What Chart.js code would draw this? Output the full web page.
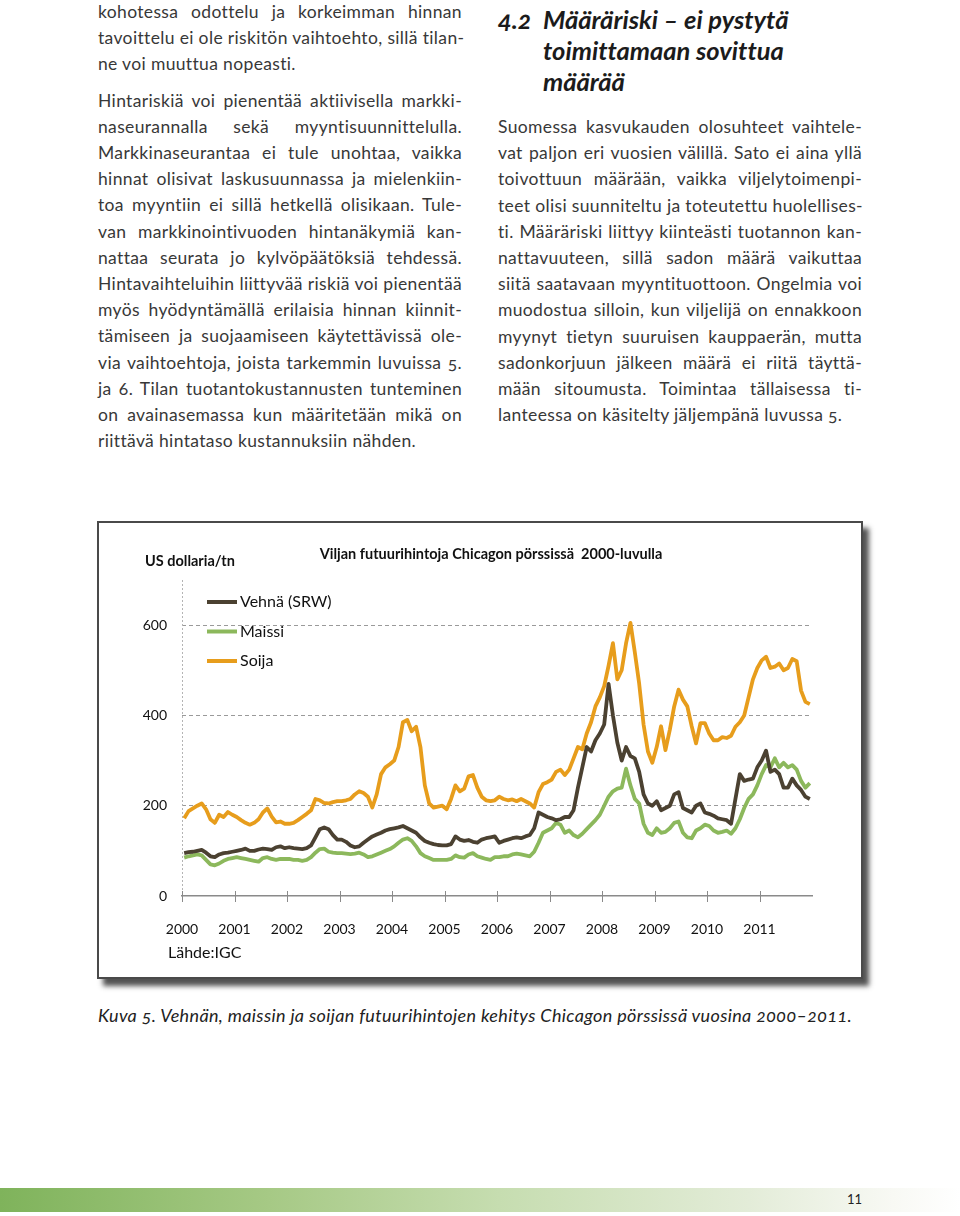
<!DOCTYPE html>
<html lang="fi">
<head>
<meta charset="utf-8">
<script src="https://cdn.jsdelivr.net/npm/chart.js@4.4.0/dist/chart.umd.min.js"></script>
<style>
  body { margin: 0; width: 960px; height: 1216px; position: relative; background: #fff; font-family: Lato, "Open Sans", sans-serif; color: #383838; overflow: hidden; font-variant-ligatures: none; }
  .col { position: absolute; width: 364px; font-size: 17.5px; letter-spacing: 0.35px; line-height: 26.2px; font-variant-numeric: oldstyle-nums; }
  .col div { white-space: nowrap; text-align: justify; text-align-last: justify; }
  .col div.end { text-align-last: left; }
  .col .gap { height: 10px; }
  .head { position: absolute; left: 498px; top: 4px; font-size: 25.5px; font-weight: bold; font-style: italic; line-height: 31px; color: #1b1b1b; }
  .head span { display: inline-block; width: 45px; font-variant-numeric: oldstyle-nums; }
  .head div.in { padding-left: 45px; }
  .frame { position: absolute; left: 97px; top: 521px; width: 762px; height: 454px; border: 2px solid #4a4a4a; background: #fff; box-shadow: 6px 7px 5px rgba(40,40,40,0.8); }
  .caption { position: absolute; left: 98px; top: 1004px; font-size: 18px; letter-spacing: 0.35px; font-style: italic; color: #222; font-variant-numeric: oldstyle-nums; white-space: nowrap; }
  .bar { position: absolute; left: 0; top: 1188px; width: 960px; height: 24px; background: linear-gradient(to right, #7fb35b 0%, #a6c985 28%, #c6ddb0 52%, #e3ecd8 78%, #f8f9f4 93%, #fff 100%); }
  .pnum { position: absolute; left: 847px; top: 1191px; font-size: 13px; color: #222; }
</style>
</head>
<body>

<div class="col" style="left:98px; top:-1px;">
  <div>kohotessa odottelu ja korkeimman hinnan</div>
  <div>tavoittelu ei ole riskitön vaihtoehto, sillä tilan-</div>
  <div class="end">ne voi muuttua nopeasti.</div>
  <div class="gap"></div>
  <div>Hintariskiä voi pienentää aktiivisella markki-</div>
  <div>naseurannalla sekä myyntisuunnittelulla.</div>
  <div>Markkinaseurantaa ei tule unohtaa, vaikka</div>
  <div>hinnat olisivat laskusuunnassa ja mielenkiin-</div>
  <div>toa myyntiin ei sillä hetkellä olisikaan. Tule-</div>
  <div>van markkinointivuoden hintanäkymiä kan-</div>
  <div>nattaa seurata jo kylvöpäätöksiä tehdessä.</div>
  <div>Hintavaihteluihin liittyvää riskiä voi pienentää</div>
  <div>myös hyödyntämällä erilaisia hinnan kiinnit-</div>
  <div>tämiseen ja suojaamiseen käytettävissä ole-</div>
  <div>via vaihtoehtoja, joista tarkemmin luvuissa 5.</div>
  <div>ja 6. Tilan tuotantokustannusten tunteminen</div>
  <div>on avainasemassa kun määritetään mikä on</div>
  <div class="end">riittävä hintataso kustannuksiin nähden.</div>
</div>

<div class="head">
  <div><span>4.2</span>Määräriski – ei pystytä</div>
  <div class="in">toimittamaan sovittua</div>
  <div class="in">määrää</div>
</div>

<div class="col" style="left:498px; top:114px;">
  <div>Suomessa kasvukauden olosuhteet vaihtele-</div>
  <div>vat paljon eri vuosien välillä. Sato ei aina yllä</div>
  <div>toivottuun määrään, vaikka viljelytoimenpi-</div>
  <div>teet olisi suunniteltu ja toteutettu huolellises-</div>
  <div>ti. Määräriski liittyy kiinteästi tuotannon kan-</div>
  <div>nattavuuteen, sillä sadon määrä vaikuttaa</div>
  <div>siitä saatavaan myyntituottoon. Ongelmia voi</div>
  <div>muodostua silloin, kun viljelijä on ennakkoon</div>
  <div>myynyt tietyn suuruisen kauppaerän, mutta</div>
  <div>sadonkorjuun jälkeen määrä ei riitä täyttä-</div>
  <div>mään sitoumusta. Toimintaa tällaisessa ti-</div>
  <div class="end">lanteessa on käsitelty jäljempänä luvussa 5.</div>
</div>

<div class="frame"><canvas id="chart" width="762" height="454"></canvas></div>

<div class="caption">Kuva 5. Vehnän, maissin ja soijan futuurihintojen kehitys Chicagon pörssissä vuosina 2000–2011.</div>
<div class="bar"></div>
<div class="pnum">11</div>

<script>
// years on the x axis, one value per month for each crop (USD / tonne)
const years = [2000, 2001, 2002, 2003, 2004, 2005, 2006, 2007, 2008, 2009, 2010, 2011];
const yTicks = [0, 200, 400, 600];
const seriesNames = ['Vehnä (SRW)', 'Maissi', 'Soija'];
const seriesColors = ['#4b4131', '#8cb85c', '#e79d1c'];

const wheat = [
  95, 97, 98, 100, 102, 96, 88, 86, 92, 95, 96, 98,
  100, 102, 105, 100, 100, 103, 105, 104, 102, 108, 110, 106,
  108, 106, 105, 104, 106, 112, 130, 148, 152, 148, 135, 125,
  125, 120, 112, 108, 110, 118, 125, 132, 136, 140, 145, 148,
  150, 152, 155, 150, 145, 140, 130, 122, 118, 115, 113, 112,
  112, 115, 132, 125, 122, 124, 120, 118, 125, 128, 130, 132,
  118, 122, 125, 128, 130, 128, 132, 135, 150, 185, 180, 175,
  172, 168, 170, 175, 175, 190, 240, 285, 330, 320, 345, 360,
  380, 470, 400, 340, 300, 330, 310, 305, 275, 225, 205, 200,
  210, 190, 195, 200, 225, 230, 195, 190, 185, 200, 205, 185,
  182, 178, 172, 170, 168, 160, 215, 270, 255, 258, 260, 285,
  300, 322, 275, 280, 270, 240, 240, 260, 245, 235, 220, 215
];

const corn = [
  85, 88, 90, 92, 90, 80, 70, 68, 72, 78, 82, 84,
  86, 84, 82, 80, 78, 76, 84, 86, 82, 80, 82, 82,
  82, 80, 80, 78, 80, 86, 96, 104, 105, 98, 96, 95,
  95, 94, 93, 94, 96, 92, 86, 88, 92, 96, 100, 104,
  110, 118, 125, 128, 122, 110, 95, 88, 84, 80, 80, 80,
  80, 82, 90, 86, 85, 92, 95, 88, 85, 82, 80, 86,
  86, 88, 88, 92, 94, 92, 90, 88, 98, 118, 140, 145,
  150, 162, 158, 140, 145, 135, 130, 138, 148, 158, 168, 180,
  200, 220, 232, 238, 240, 282, 245, 215, 205, 160, 140, 135,
  150, 140, 142, 150, 162, 165, 140, 130, 128, 145, 150, 158,
  155, 145, 140, 142, 145, 138, 150, 170, 195, 215, 225, 245,
  270, 290, 285, 305, 285, 295, 285, 290, 280, 255, 240, 250
];

const soy = [
  172, 188, 194, 200, 205, 192, 170, 162, 180, 175, 186, 180,
  175, 168, 162, 158, 162, 170, 185, 194, 176, 163, 165, 160,
  160, 162, 168, 175, 182, 190, 215, 212, 206, 205, 208, 210,
  210, 212, 215, 225, 232, 228, 220, 196, 225, 270, 285, 292,
  300, 330, 385, 390, 365, 375, 330, 245, 205, 196, 198, 200,
  192, 215, 245, 232, 238, 265, 268, 240, 220, 212, 210, 212,
  220, 215, 212, 214, 210, 215, 210, 205, 196, 230, 248, 252,
  258, 275, 280, 268, 280, 305, 330, 325, 360, 385, 420, 440,
  465, 510, 560, 480, 500, 560, 605, 540, 470, 380, 320, 295,
  330, 376, 323, 368, 420, 457, 435, 420, 376, 338, 383, 383,
  360, 345, 345, 352, 350, 355, 375, 385, 400, 440, 480, 505,
  522, 530, 505, 508, 515, 500, 505, 525, 520, 455, 430, 425
];

const toPoints = arr => arr.map((v, i) => ({ x: years[0] + (i + 0.5) / 12, y: v }));

const decor = {
  id: 'decor',
  beforeDatasetsDraw(chart) {
    const { ctx, chartArea: a } = chart;
    // dotted vertical axis line
    ctx.save();
    ctx.strokeStyle = '#b4b4b4';
    ctx.lineWidth = 1;
    ctx.setLineDash([2, 2]);
    ctx.beginPath();
    ctx.moveTo(a.left + 0.5, a.top);
    ctx.lineTo(a.left + 0.5, a.bottom);
    ctx.stroke();
    ctx.restore();
  },
  afterDraw(chart) {
    const { ctx, chartArea: a, scales: { x } } = chart;
    ctx.save();
    // year ticks crossing the axis line
    ctx.strokeStyle = '#8a8a8a';
    ctx.lineWidth = 1;
    years.forEach(yr => {
      const px = Math.round(x.getPixelForValue(yr)) + 0.5;
      ctx.beginPath();
      ctx.moveTo(px, a.bottom - 5);
      ctx.lineTo(px, a.bottom + 6);
      ctx.stroke();
    });
    // legend inside plot
    ctx.font = '16px Lato';
    ctx.textBaseline = 'middle';
    chart.data.datasets.forEach((ds, i) => {
      const yy = a.top + 22 + i * 29.5;
      ctx.strokeStyle = ds.borderColor;
      ctx.lineWidth = 4;
      ctx.beginPath();
      ctx.moveTo(a.left + 25, yy);
      ctx.lineTo(a.left + 55, yy);
      ctx.stroke();
      ctx.fillStyle = '#111';
      ctx.fillText(ds.label, a.left + 58, yy);
    });
    // titles
    ctx.fillStyle = '#111';
    ctx.font = 'bold 14.5px Lato';
    ctx.textAlign = 'left';
    ctx.fillText('US dollaria/tn', 46, 38);
    ctx.textAlign = 'center';
    ctx.fillText('Viljan futuurihintoja Chicagon pörssissä  2000-luvulla', 392, 31);
    ctx.textAlign = 'left';
    ctx.font = '16px Lato';
    ctx.fillText('Lähde:IGC', 69, 430);
    ctx.restore();
  }
};

new Chart(document.getElementById('chart'), {
  type: 'line',
  data: {
    datasets: [
      { label: seriesNames[0], data: toPoints(wheat), borderColor: seriesColors[0] },
      { label: seriesNames[1], data: toPoints(corn), borderColor: seriesColors[1] },
      { label: seriesNames[2], data: toPoints(soy), borderColor: seriesColors[2] }
    ]
  },
  options: {
    responsive: false,
    animation: false,
    layout: { padding: { top: 57, right: 49, left: 0, bottom: 0 } },
    elements: {
      line: { borderWidth: 3.8, tension: 0, borderJoinStyle: 'round' },
      point: { radius: 0 }
    },
    plugins: { legend: { display: false }, tooltip: { enabled: false } },
    scales: {
      x: {
        type: 'linear',
        min: 2000,
        max: 2012,
        afterFit: s => { s.height = 81; },
        grid: { display: false },
        border: { display: true, color: '#8a8a8a', width: 1.5 },
        ticks: {
          stepSize: 1,
          includeBounds: false,
          padding: 17,
          maxRotation: 0,
          autoSkip: false,
          color: '#111',
          font: { family: 'Lato', size: 14 },
          callback: v => (years.includes(v) ? String(v) : '')
        }
      },
      y: {
        min: 0,
        max: 700,
        afterFit: s => { s.width = 83; },
        afterBuildTicks: s => { s.ticks = yTicks.map(v => ({ value: v })); },
        grid: {
          drawTicks: false,
          color: ctx => (ctx.tick && ctx.tick.value === 0 ? 'rgba(0,0,0,0)' : '#9a9a9a'),
          lineWidth: 1
        },
        // in v4 the border dash also dashes the grid lines
        border: { display: false, dash: [4, 3] },
        ticks: {
          padding: 15,
          color: '#111',
          font: { family: 'Lato', size: 14 }
        }
      }
    }
  },
  plugins: [decor]
});
</script>
</body>
</html>
